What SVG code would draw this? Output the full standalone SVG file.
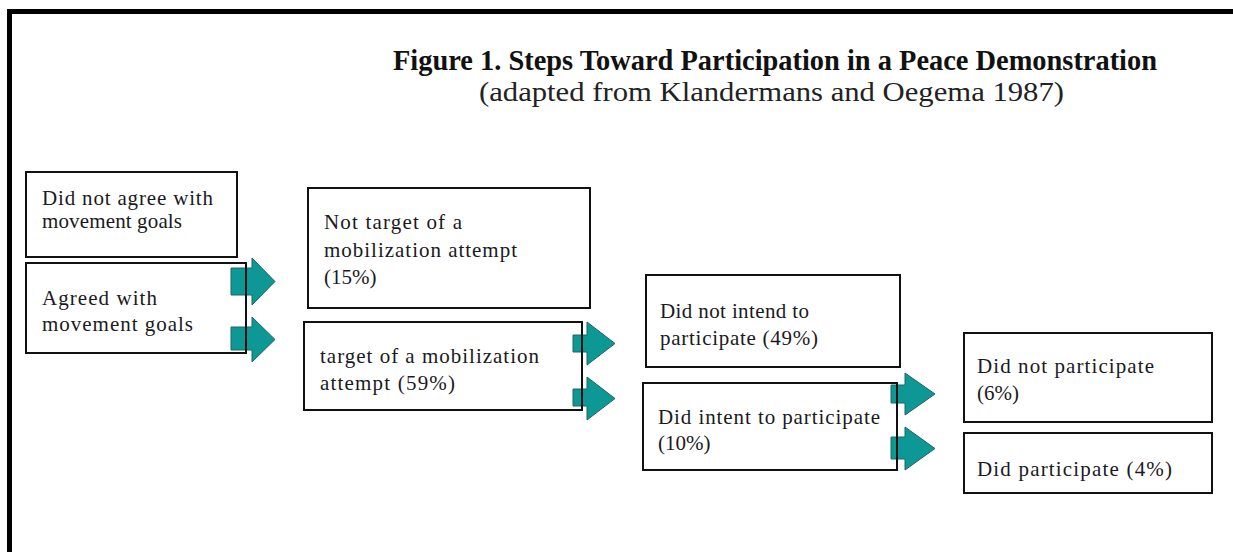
<svg xmlns="http://www.w3.org/2000/svg" width="1233" height="552" viewBox="0 0 1233 552">
  <style>
    .box { fill: #ffffff; stroke: #111111; stroke-width: 2; }
    .lbl { font-family: "Liberation Serif", "Times New Roman", serif; font-size: 21px; fill: #1a1a22; }
    .title { font-family: "Liberation Serif", "Times New Roman", serif; font-size: 29px; font-weight: bold; fill: #111111; }
    .sub { font-family: "Liberation Serif", "Times New Roman", serif; font-size: 27px; fill: #222222; }
    .arrow { fill: #0e9895; stroke: #1d6664; stroke-width: 1; }
    .stem { stroke: #111111; stroke-width: 2; fill: none; }
  </style>

  <rect x="0" y="0" width="1233" height="552" fill="#ffffff"/>

  <!-- page frame -->
  <g id="frame">
    <rect x="7" y="9" width="1226" height="5" fill="#000000"/>
    <rect x="7" y="9" width="5" height="543" fill="#000000"/>
  </g>

  <!-- heading -->
  <g id="heading">
    <text class="title" x="393" y="70" textLength="764" lengthAdjust="spacingAndGlyphs">Figure 1. Steps Toward Participation in a Peace Demonstration</text>
    <text class="sub" x="479" y="101" textLength="585" lengthAdjust="spacingAndGlyphs">(adapted from Klandermans and Oegema 1987)</text>
  </g>

  <!-- stage 1: agreement with goals -->
  <g id="node-disagree">
    <rect class="box" x="26" y="172" width="211" height="85"/>
    <text class="lbl" x="42" y="205" textLength="171" lengthAdjust="spacing">Did not agree with</text>
    <text class="lbl" x="42" y="228" textLength="140" lengthAdjust="spacing">movement goals</text>
  </g>
  <g id="node-agree">
    <rect class="box" x="26" y="263" width="220" height="90"/>
    <text class="lbl" x="42" y="305" textLength="115" lengthAdjust="spacing">Agreed with</text>
    <text class="lbl" x="42" y="331" textLength="151" lengthAdjust="spacing">movement goals</text>
  </g>

  <!-- stage 2: mobilization -->
  <g id="node-not-target">
    <rect class="box" x="308" y="188" width="282" height="120"/>
    <text class="lbl" x="324" y="229" textLength="138" lengthAdjust="spacing">Not target of a</text>
    <text class="lbl" x="324" y="257" textLength="193" lengthAdjust="spacing">mobilization attempt</text>
    <text class="lbl" x="324" y="284">(15%)</text>
  </g>
  <g id="node-target">
    <rect class="box" x="304" y="322" width="278" height="88"/>
    <text class="lbl" x="320" y="363" textLength="219" lengthAdjust="spacing">target of a mobilization</text>
    <text class="lbl" x="320" y="390" textLength="135" lengthAdjust="spacing">attempt (59%)</text>
  </g>

  <!-- stage 3: intention -->
  <g id="node-no-intent">
    <rect class="box" x="646" y="275" width="254" height="92"/>
    <text class="lbl" x="660" y="318" textLength="149" lengthAdjust="spacing">Did not intend to</text>
    <text class="lbl" x="660" y="345" textLength="158" lengthAdjust="spacing">participate (49%)</text>
  </g>
  <g id="node-intent">
    <rect class="box" x="643" y="383" width="254" height="87"/>
    <text class="lbl" x="658" y="424" textLength="222" lengthAdjust="spacing">Did intent to participate</text>
    <text class="lbl" x="658" y="450">(10%)</text>
  </g>

  <!-- stage 4: participation -->
  <g id="node-no-part">
    <rect class="box" x="964" y="333" width="248" height="89"/>
    <text class="lbl" x="977" y="373" textLength="177" lengthAdjust="spacing">Did not participate</text>
    <text class="lbl" x="977" y="400">(6%)</text>
  </g>
  <g id="node-part">
    <rect class="box" x="964" y="433" width="248" height="60"/>
    <text class="lbl" x="977" y="476" textLength="195" lengthAdjust="spacing">Did participate (4%)</text>
  </g>

  <!-- block arrows leading from each "yes" box to the next stage -->
  <g id="connectors">
    <path class="arrow" d="M231,268 H252 V258 L275,281.5 L252,305 V295 H231 Z"/>
    <path class="arrow" d="M231,327 H252 V317 L275,339.5 L252,362 V350 H231 Z"/>

    <path class="arrow" d="M573,335 H587 V322 L615,343.5 L587,365 V352 H573 Z"/>
    <path class="arrow" d="M573,389 H587 V377 L615,398.5 L587,420 V406 H573 Z"/>

    <path class="arrow" d="M891,385 H905 V373 L935,394 L905,415 V403 H891 Z"/>
    <path class="arrow" d="M891,437 H905 V427 L935,448.5 L905,470 V459 H891 Z"/>

    <!-- right edges of the "yes" boxes run over the arrow tails -->
    <line class="stem" x1="246" y1="263" x2="246" y2="353"/>
    <line class="stem" x1="582" y1="322" x2="582" y2="410"/>
    <line class="stem" x1="897" y1="383" x2="897" y2="470"/>
  </g>
</svg>
